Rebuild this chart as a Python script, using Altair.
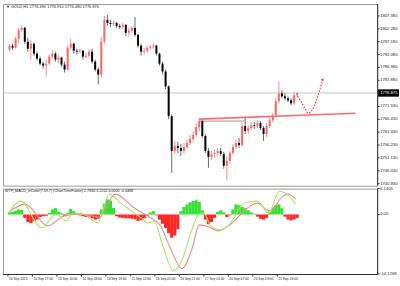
import altair as alt
import pandas as pd

# ---------------- price data (2-hour candles) ----------------
opens = [1794.01, 1795.58, 1794.80, 1798.34, 1801.88, 1802.66, 1797.16, 1794.40, 1796.37, 1792.44,
         1790.47, 1788.51, 1787.72, 1788.51, 1791.26, 1792.44, 1790.08, 1790.87, 1788.11, 1786.15,
         1794.80, 1796.37, 1793.62, 1793.23, 1793.62, 1791.26, 1791.65, 1793.23, 1789.29, 1786.15,
         1784.18, 1797.16, 1805.81, 1804.63, 1804.23, 1804.63, 1803.45, 1803.06, 1803.84, 1800.70,
         1801.48, 1802.66, 1799.91, 1795.58, 1793.23, 1793.62, 1794.80, 1795.19, 1795.58, 1792.44,
         1788.51, 1785.36, 1779.46, 1767.67, 1753.91, 1755.87, 1755.08, 1753.91, 1755.48, 1757.05,
         1758.62, 1760.20, 1763.34, 1765.70, 1759.80, 1753.91, 1751.55, 1752.73, 1753.12, 1753.91,
         1752.73, 1748.01, 1749.97, 1753.12, 1755.48, 1757.05, 1756.26, 1763.74, 1761.77, 1762.95,
         1764.13, 1763.74, 1764.92, 1762.95, 1760.59, 1763.74, 1766.09, 1768.06, 1773.57, 1776.71,
         1775.53, 1774.74, 1773.96, 1772.78, 1775.92]
highs = [1796.37, 1796.37, 1799.12, 1802.66, 1803.84, 1803.06, 1798.73, 1797.94, 1796.76, 1793.23,
         1791.26, 1789.29, 1790.08, 1792.05, 1794.01, 1793.23, 1792.05, 1791.26, 1789.29, 1795.58,
         1798.34, 1796.76, 1794.40, 1794.40, 1794.01, 1792.83, 1794.40, 1794.40, 1790.08, 1786.93,
         1799.12, 1807.38, 1807.77, 1805.81, 1805.41, 1805.02, 1804.23, 1804.63, 1804.23, 1802.66,
         1803.45, 1806.99, 1800.30, 1796.37, 1794.80, 1795.58, 1795.98, 1796.37, 1795.98, 1792.83,
         1789.29, 1786.15, 1779.86, 1768.45, 1757.84, 1757.44, 1756.66, 1757.05, 1758.23, 1760.20,
         1761.77, 1764.92, 1766.88, 1766.49, 1760.59, 1755.08, 1753.91, 1754.69, 1755.08, 1755.08,
         1753.51, 1751.55, 1753.91, 1756.66, 1758.23, 1759.02, 1764.92, 1766.88, 1764.13, 1765.31,
         1765.31, 1766.09, 1765.70, 1763.74, 1764.92, 1767.27, 1768.85, 1774.74, 1781.43, 1777.89,
         1776.71, 1775.53, 1774.74, 1777.10, 1777.10]
lows = [1793.23, 1794.01, 1794.40, 1796.37, 1801.09, 1796.37, 1793.23, 1790.08, 1791.65, 1789.69,
        1787.72, 1786.54, 1783.40, 1787.72, 1790.47, 1789.29, 1788.51, 1787.33, 1784.97, 1785.75,
        1794.01, 1792.44, 1792.05, 1792.44, 1790.08, 1790.47, 1790.87, 1788.51, 1785.36, 1780.25,
        1783.00, 1796.37, 1803.45, 1803.06, 1803.45, 1802.66, 1802.27, 1802.27, 1799.52, 1799.12,
        1800.70, 1799.12, 1794.80, 1791.65, 1792.05, 1792.83, 1794.01, 1794.40, 1791.65, 1787.72,
        1784.18, 1778.28, 1766.49, 1745.25, 1752.73, 1753.12, 1751.94, 1752.73, 1754.69, 1756.26,
        1757.44, 1759.41, 1761.77, 1759.02, 1753.12, 1747.22, 1750.37, 1751.15, 1751.94, 1751.94,
        1746.83, 1742.11, 1748.79, 1752.33, 1754.69, 1755.08, 1755.48, 1760.59, 1760.59, 1762.16,
        1762.56, 1762.95, 1762.16, 1757.84, 1759.41, 1762.95, 1765.31, 1767.27, 1772.78, 1774.74,
        1773.96, 1773.17, 1771.99, 1771.99, 1775.14]
closes = [1795.58, 1794.80, 1798.34, 1801.88, 1802.66, 1797.16, 1794.40, 1796.37, 1792.44, 1790.47,
          1788.51, 1787.72, 1788.51, 1791.26, 1792.44, 1790.08, 1790.87, 1788.11, 1786.15, 1794.80,
          1796.37, 1793.62, 1793.23, 1793.62, 1791.26, 1791.65, 1793.23, 1789.29, 1786.15, 1784.18,
          1797.16, 1805.81, 1804.63, 1804.23, 1804.63, 1803.45, 1803.06, 1803.84, 1800.70, 1801.48,
          1802.66, 1799.91, 1795.58, 1793.23, 1793.62, 1794.80, 1795.19, 1795.58, 1792.44, 1788.51,
          1785.36, 1779.46, 1767.67, 1753.91, 1755.87, 1755.08, 1753.91, 1755.48, 1757.05, 1758.62,
          1760.20, 1763.34, 1765.70, 1759.80, 1753.91, 1751.55, 1752.73, 1753.12, 1753.91, 1752.73,
          1748.01, 1749.97, 1753.12, 1755.48, 1757.05, 1756.26, 1763.74, 1761.77, 1762.95, 1764.13,
          1763.74, 1764.92, 1762.95, 1760.59, 1763.74, 1766.09, 1768.06, 1773.57, 1776.71, 1775.53,
          1774.74, 1773.96, 1772.78, 1775.92, 1776.87]

# ---------------- indicator data ----------------
hist = [0.5, 0.6, 0.9, 1.2, 1.1, -0.8, -1.8, -2.0, -1.6, -1.2,
        -0.6, -0.4, -0.3, 0.4, 1.2, 1.5, 0.6, 0.3, -0.4, 0.4,
        1.3, 0.8, 0.3, -0.2, -0.4, -0.6, -0.5, -0.9, -1.2, -1.0,
        1.2, 2.6, 3.6, 3.3, 1.6, -0.4, -0.7, -0.8, -0.9, -0.9,
        -1.0, -1.1, -1.5, -1.4, -0.9, -0.3, 0.5, 0.8, -0.2, -1.2,
        -2.2, -3.2, -4.4, -5.5, -5.0, -3.5, 0.8, 1.8, 2.4, 2.9,
        3.2, 3.4, 3.0, 1.0, -1.2, -2.3, -1.8, -0.8, 0.6, 1.0,
        0.5, -0.6, -0.2, 1.2, 2.4, 2.2, 1.8, 1.5, 1.0, 0.5,
        0.2, -0.5, -1.0, -1.2, -0.8, 0.6, 1.6, 2.2, 2.4, 1.5,
        -0.5, -1.2, -1.4, -1.2, -0.8]

fast_bars = [0.5, 8.2, 22.1, 31.5, 37.9, 42.9, 49.2, 58.7, 66.2, 74.4, 80.8, 87.1, 91.5, 95.3,
             101.6, 107.9, 113.6, 119.9, 124.9, 128.1, 132.5, 138.8, 143.8, 154.6, 162.8, 170.3,
             177.3, 183.0, 188.0]
fast_vals = [0.35, 3.18, -3.18, 0.12, -1.53, 0.35, 0.12, -2.0, 4.83, 2.47, 0.82, -0.82, -2.0, -1.53,
             -7.9, -13.32, -10.96, -3.89, 0.12, 0.35, -2.71, -3.65, -2.71, 2.71, 3.18, 0.35,
             5.54, 4.6, 2.47]
slow_bars = [0.5, 11.4, 25.9, 36.6, 47.3, 59.9, 70.0, 82.6, 93.4, 99.7, 106.0, 113.6, 120.5, 124.9,
             131.2, 137.5, 145.7, 156.5, 162.8, 171.0, 179.8, 183.0, 188.0]
slow_vals = [0.59, 2.47, -2.71, -0.35, 0.12, -0.59, 4.83, 1.53, -0.82, -2.71, -7.9, -12.84, -7.9, -2.47,
             -2.95, -3.89, -2.24, 1.53, 2.71, 0.82, 4.36, 4.83, 3.65]

# ---------------- drawn objects ----------------
trend_bars = [124.9, 227.1]
trend_prices = [1766.49, 1768.85]
level_bars = [124.9, 154.5]
level_prices = [1765.70, 1765.70]
proj_bars = [189.3, 191.8, 194.3, 196.2, 198.7, 201.3, 203.8, 205.7]
proj_prices = [1775.53, 1773.17, 1770.42, 1768.85, 1770.03, 1773.57, 1778.28, 1782.22]
last_price = 1776.87

# ---------------- axis texts ----------------
time_bars = [0, 16, 32, 48, 64, 80, 96, 112, 128, 144, 160, 176]
time_labels = ["10 Sep 2021", "10 Sep 17:00", "13 Sep 10:00", "14 Sep 03:00", "14 Sep 19:00",
               "15 Sep 12:00", "16 Sep 05:00", "16 Sep 21:00", "17 Sep 14:00", "20 Sep 07:00",
               "20 Sep 23:00", "21 Sep 16:00"]
price_ticks = [1807.38, 1802.28, 1797.18, 1792.08, 1786.98, 1781.88, 1771.53, 1766.43,
               1761.33, 1756.23, 1751.13, 1746.03, 1740.93]
ind_ticks = [6.1405, 0.0, -14.1268]
ind_tick_labels = ["6.1405", "0.00", "-14.1268"]
header = "\u25bc GOLD,H1  1776.490 1776.910 1776.480 1776.870"
ind_header = "WTP_MACD_inColor(7,19,7) (ChartTimeFrame) 2.7830 3.2202 0.0000 -0.0468"

W = 377
PH = 183
IH = 86
FONT = "Liberation Sans"
FS = 4.2
BULL = "#ff6464"
BEAR = "#000000"
TXT = "#222222"

xs = alt.Scale(domain=[0, 238], nice=False, zero=False)
ys = alt.Scale(domain=[1740.14, 1812.10], nice=False, zero=False)
iscale = alt.Scale(domain=[-14.1268, 6.1405], nice=False, zero=False)


def X(field="bar"):
    return alt.X(f"{field}:Q", scale=xs, axis=None)


def YP(field):
    return alt.Y(f"{field}:Q", scale=ys, axis=None)


def YI(field):
    return alt.Y(f"{field}:Q", scale=iscale, axis=None)


cdf = pd.DataFrame({"bar": [2 * i + 1 for i in range(len(opens))],
                    "open": opens, "high": highs, "low": lows, "close": closes})
bull = "datum.close >= datum.open"

wicks = alt.Chart(cdf).mark_rule(strokeWidth=1).encode(
    x=X(), y=YP("low"), y2="high:Q",
    color=alt.condition(bull, alt.value("#ff8a8a"), alt.value("#6a6a6a")),
)
bodies = alt.Chart(cdf).mark_bar(size=2).encode(
    x=X(), y=YP("open"), y2="close:Q",
    color=alt.condition(bull, alt.value(BULL), alt.value(BEAR)),
)
bid = alt.Chart(pd.DataFrame({"p": [last_price]})).mark_rule(color="#c8c8c8", strokeWidth=1).encode(
    y=YP("p"))

level = alt.Chart(pd.DataFrame({"bar": level_bars, "p": level_prices})).mark_line(
    color="#c4c4c4", strokeWidth=1.6).encode(x=X(), y=YP("p"))
trend = alt.Chart(pd.DataFrame({"bar": trend_bars, "p": trend_prices})).mark_line(
    color="#ff6b6b", strokeWidth=1.6).encode(x=X(), y=YP("p"))
pdf = pd.DataFrame({"bar": proj_bars, "p": proj_prices, "o": list(range(len(proj_bars)))})
proj = alt.Chart(pdf).mark_line(color="#ff3030", strokeWidth=1.2, strokeDash=[1.5, 1.5],
                                interpolate="monotone").encode(x=X(), y=YP("p"), order="o:Q")
arrow = alt.Chart(pdf.tail(1)).mark_point(shape="triangle-up", filled=True, size=10, angle=30,
                                          color="#ff3030", opacity=1).encode(x=X(), y=YP("p"))

# right price scale drawn as marks
axis_line_p = alt.Chart(pd.DataFrame({"a": [0]})).mark_rule(color="#333", strokeWidth=1).encode(
    x=alt.value(W + 0.5), y=alt.value(0), y2=alt.value(PH))
ptdf = pd.DataFrame({"p": price_ticks, "t": [f"{v:.3f}" for v in price_ticks]})
p_ticks = alt.Chart(ptdf).mark_rule(color="#333", strokeWidth=1).encode(
    x=alt.value(W + 0.5), x2=alt.value(W + 2.5), y=YP("p"))
p_labels = alt.Chart(ptdf).mark_text(align="left", baseline="middle", color=TXT, font=FONT,
                                     fontSize=FS).encode(x=alt.value(W + 3), y=YP("p"), text="t:N")

box = alt.Chart(pd.DataFrame({"p": [last_price]})).mark_rect(color="#000000").encode(
    x=alt.value(W + 1), x2=alt.value(W + 22),
    y=alt.YDatum(1778.3, scale=ys, axis=None), y2=alt.Y2Datum(1775.4))
box_text = alt.Chart(pd.DataFrame({"p": [last_price], "t": ["1776.875"]})).mark_text(
    align="left", baseline="middle", color="white", font=FONT, fontSize=FS).encode(
    x=alt.value(W + 3), y=YP("p"), text="t:N")

head = alt.Chart(pd.DataFrame({"t": [header]})).mark_text(
    align="left", baseline="middle", color=TXT, font=FONT, fontSize=4).encode(
    x=alt.value(3), y=alt.value(3), text="t:N")

price = alt.layer(bid, level, wicks, bodies, trend, proj, arrow, axis_line_p, p_ticks,
                  p_labels, box, box_text, head).properties(width=W, height=PH)

# ---------------- indicator panel ----------------
hdf = pd.DataFrame({"bar": [2 * i + 1 for i in range(len(hist))], "v": hist})
histo = alt.Chart(hdf).mark_bar(size=3.2).encode(
    x=X(), y=YI("v"), y2=alt.Y2Datum(0),
    color=alt.condition("datum.v >= 0", alt.value("#35e035"), alt.value("#ff2626")),
)
slow = alt.Chart(pd.DataFrame({"bar": slow_bars, "v": slow_vals})).mark_line(
    color="#f28a84", strokeWidth=1.1, interpolate="monotone").encode(x=X(), y=YI("v"))
fast = alt.Chart(pd.DataFrame({"bar": fast_bars, "v": fast_vals})).mark_line(
    color="#aee36e", strokeWidth=1.1, interpolate="monotone").encode(x=X(), y=YI("v"))
ind_head = alt.Chart(pd.DataFrame({"t": [ind_header]})).mark_text(
    align="left", baseline="middle", color=TXT, font=FONT, fontSize=3.7).encode(
    x=alt.value(2), y=alt.value(2.5), text="t:N")

axis_line_i = alt.Chart(pd.DataFrame({"a": [0]})).mark_rule(color="#333", strokeWidth=1).encode(
    x=alt.value(W + 0.5), y=alt.value(0), y2=alt.value(IH))
itdf = pd.DataFrame({"v": ind_ticks, "t": ind_tick_labels})
i_ticks = alt.Chart(itdf).mark_rule(color="#333", strokeWidth=1).encode(
    x=alt.value(W + 0.5), x2=alt.value(W + 2.5), y=YI("v"))
i_labels = alt.Chart(itdf).mark_text(align="left", baseline="middle", color=TXT, font=FONT,
                                     fontSize=FS).encode(x=alt.value(W + 3), y=YI("v"), text="t:N")

tdf = pd.DataFrame({"bar": time_bars, "t": time_labels})
t_ticks = alt.Chart(tdf).mark_rule(color="#333", strokeWidth=1).encode(
    x=X(), y=alt.value(IH), y2=alt.value(IH + 2.5))
t_labels = alt.Chart(tdf).mark_text(align="left", baseline="middle", color=TXT, font=FONT,
                                    fontSize=3.3, dx=1).encode(x=X(), y=alt.value(IH + 5), text="t:N")
bottom_line = alt.Chart(pd.DataFrame({"a": [0]})).mark_rule(color="#333", strokeWidth=1).encode(
    x=alt.value(0), x2=alt.value(W + 0.5), y=alt.value(IH + 0.5))

ind = alt.layer(histo, slow, fast, ind_head, axis_line_i, i_ticks, i_labels,
                bottom_line, t_ticks, t_labels).properties(width=W, height=IH)

chart = alt.vconcat(price, ind, spacing=3).properties(
    bounds="flush",
    padding={"left": 2, "top": 2, "right": 0, "bottom": 0},
    background="white",
).configure_view(stroke="#9a9a9a", strokeWidth=1)

chart.save("out.html", embed_options={"renderer": "svg", "actions": False})
